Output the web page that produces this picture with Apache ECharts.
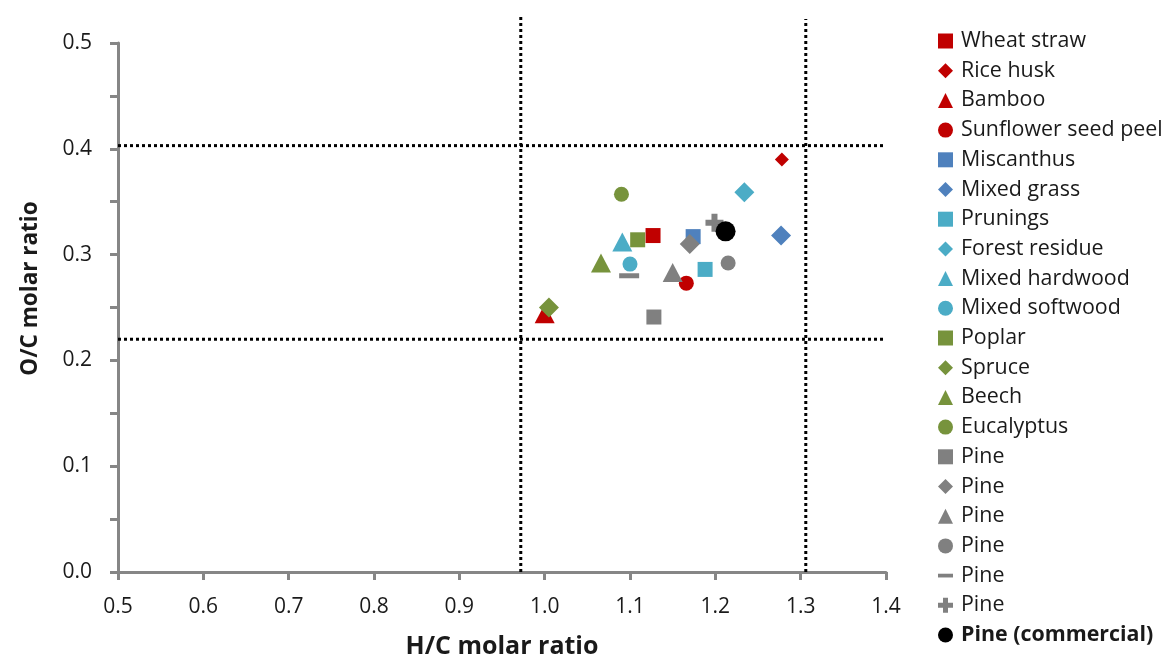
<!DOCTYPE html>
<html>
<head>
<meta charset="utf-8">
<script src="https://cdn.jsdelivr.net/npm/echarts@6/dist/echarts.min.js"></script>
<style>
  html, body { margin: 0; padding: 0; background: #fff; }
  #chart { width: 1165px; height: 659px; }
</style>
</head>
<body>
<div id="chart"></div>
<script>
// feedstocks, in legend order
const seriesNames = [
  'Wheat straw', 'Rice husk', 'Bamboo', 'Sunflower seed peel',
  'Miscanthus', 'Mixed grass', 'Prunings', 'Forest residue',
  'Mixed hardwood', 'Mixed softwood', 'Poplar', 'Spruce', 'Beech', 'Eucalyptus',
  'Pine', 'Pine', 'Pine', 'Pine', 'Pine', 'Pine', 'Pine (commercial)'
]
// H/C molar ratio
const hcValues = [
  1.127, 1.278, 1.000, 1.166,
  1.174, 1.277, 1.188, 1.234,
  1.091, 1.100, 1.109, 1.005, 1.066, 1.090,
  1.128, 1.170, 1.150, 1.215, 1.099, 1.199, 1.212
]
// O/C molar ratio
const ocValues = [
  0.318, 0.390, 0.244, 0.273,
  0.317, 0.318, 0.286, 0.359,
  0.312, 0.291, 0.314, 0.250, 0.292, 0.357,
  0.241, 0.310, 0.283, 0.292, 0.280, 0.330, 0.322
]
// dotted guide lines (H/C and O/C limits)
const hcLimitLow = [0.972, 0.972]
const hcLimitLowY = [0, 0.5265]
const hcLimitHigh = [1.306, 1.306]
const hcLimitHighY = [0, 0.5227]
const ocLimitX = [0.5, 1.3965]
const ocLimitLow = [0.22, 0.22]
const ocLimitHigh = [0.403, 0.403]

const xTicks = { min: 0.5, max: 1.4, step: 0.1 }
const yTicks = { min: 0, max: 0.5, step: 0.1 }

const RED = '#C00000'
const BLUE = '#4F81BD'
const CYAN = '#4BACC6'
const GREEN = '#77933C'
const GRAY = '#808080'

const DASH = 'path://M0,0H20V5H0Z'
const PLUS = 'path://M6,0H12V6H18V12H12V18H6V12H0V6H6Z'

// marker look per series: [symbol, size, color]
const markers = [
  ['rect', 15, RED], ['diamond', 14, RED], ['triangle', [20, 19], RED], ['circle', 15, RED],
  ['rect', 15, BLUE], ['diamond', 20, BLUE], ['rect', 15, CYAN], ['diamond', 20, CYAN],
  ['triangle', [20, 19], CYAN], ['circle', 15, CYAN], ['rect', 15, GREEN], ['diamond', 20, GREEN],
  ['triangle', [20, 19], GREEN], ['circle', 15, GREEN],
  ['rect', 15, GRAY], ['diamond', 20, GRAY], ['triangle', [20, 19], GRAY], ['circle', 15, GRAY],
  [DASH, [20, 5], GRAY], [PLUS, 18, GRAY], ['circle', 20, '#000']
]

const FONT = '"Open Sans"'
const TEXT = '#1a1a1a'
const AXIS = '#868686'

// duplicate legend names get collapsed, so pad them with trailing spaces
const seen = {}
const legendNames = seriesNames.map((n) => {
  seen[n] = (seen[n] || 0) + 1
  return n + ' '.repeat(seen[n] - 1)
})

const chart = echarts.init(document.getElementById('chart'))

const pointSeries = seriesNames.map((n, i) => ({
  name: legendNames[i],
  type: 'scatter',
  data: [[hcValues[i], ocValues[i]]],
  symbol: markers[i][0],
  symbolSize: markers[i][1],
  itemStyle: { color: markers[i][2], opacity: 1 },
  z: 3 + i
}))

function guide(xs, ys) {
  return {
    type: 'line',
    data: xs.map((x, i) => [x, ys[i]]),
    symbol: 'none',
    silent: true,
    clip: false,
    lineStyle: { color: '#000', width: 3, type: [3, 3] },
    z: 2
  }
}

chart.setOption({
  animation: false,
  textStyle: { fontFamily: FONT },
  grid: { left: 118, right: 279, top: 43, bottom: 87, containLabel: false, outerBoundsMode: 'none' },
  legend: {
    orient: 'vertical',
    left: 938,
    top: 30,
    padding: 0,
    itemWidth: 15,
    itemHeight: 15,
    itemGap: 7.7,
    selectedMode: false,
    textStyle: { fontFamily: FONT, fontSize: 21.4, color: TEXT, lineHeight: 22, padding: [0, 0, 0, 3] },
    data: legendNames.map((n, i) => ({
      name: n,
      icon: markers[i][0],
      textStyle: i === legendNames.length - 1 ? { fontWeight: 'bold' } : undefined
    }))
  },
  xAxis: {
    type: 'value',
    min: xTicks.min,
    max: xTicks.max,
    interval: xTicks.step,
    name: 'H/C molar ratio',
    nameLocation: 'middle',
    nameGap: 62,
    nameTextStyle: { fontFamily: FONT, fontSize: 25, fontWeight: 'bold', color: TEXT },
    axisLine: { onZero: false, lineStyle: { color: AXIS, width: 3 } },
    axisTick: { show: true, length: 8, lineStyle: { color: AXIS, width: 3 } },
    axisLabel: {
      margin: 25, fontSize: 21, color: TEXT, fontFamily: FONT,
      formatter: (v) => v.toFixed(1)
    },
    splitLine: { show: false }
  },
  yAxis: {
    type: 'value',
    min: yTicks.min,
    max: yTicks.max,
    interval: yTicks.step,
    name: 'O/C molar ratio',
    nameLocation: 'middle',
    nameGap: 76,
    nameTextStyle: { fontFamily: FONT, fontSize: 22.5, fontWeight: 'bold', color: TEXT, padding: [0, 0, 0, 38] },
    axisLine: { show: true, onZero: false, lineStyle: { color: AXIS, width: 3 } },
    axisTick: { show: true, length: 8, lineStyle: { color: AXIS, width: 3 } },
    minorTick: { show: true, splitNumber: 2, length: 8, lineStyle: { color: AXIS, width: 3 } },
    axisLabel: {
      margin: 26, fontSize: 21, color: TEXT, fontFamily: FONT,
      formatter: (v) => v.toFixed(1)
    },
    splitLine: { show: false },
    minorSplitLine: { show: false }
  },
  series: [
    guide(hcLimitLow, hcLimitLowY),
    guide(hcLimitHigh, hcLimitHighY),
    guide(ocLimitX, ocLimitLow),
    guide(ocLimitX, ocLimitHigh),
    ...pointSeries
  ]
})
</script>
</body>
</html>
